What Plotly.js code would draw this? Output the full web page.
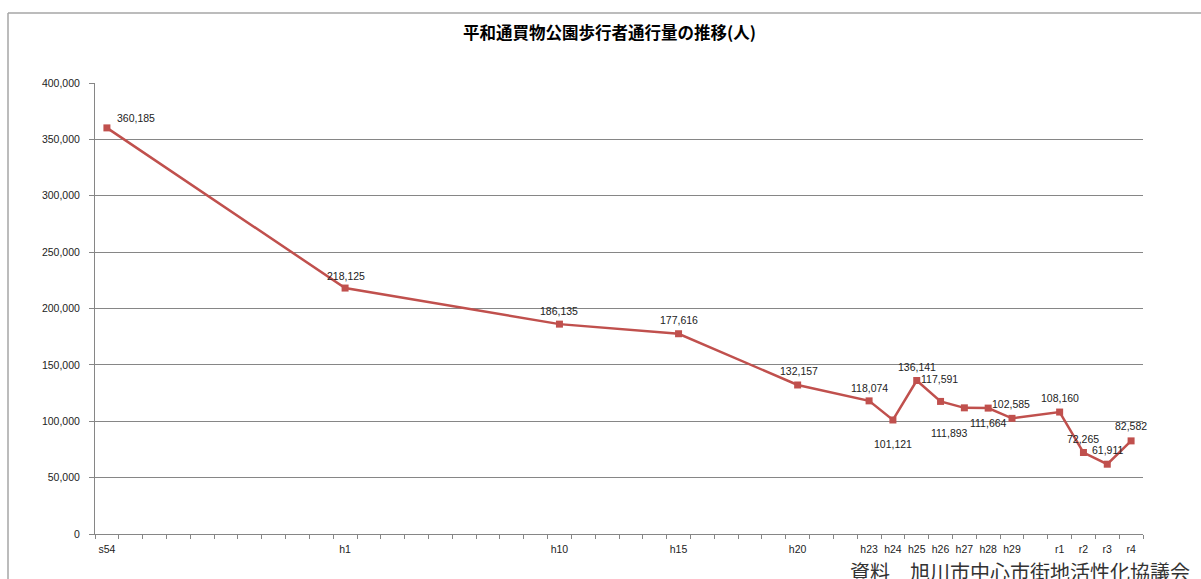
<!DOCTYPE html>
<html><head><meta charset="utf-8">
<script src="https://cdn.plot.ly/plotly-3.0.1.min.js"></script>
<style>html,body{margin:0;padding:0;background:#fff;}#chart{width:1201px;height:579px;}</style>
</head><body><div id="chart"></div>
<script>
// Data
const years = [1979, 1989, 1998, 2003, 2008, 2011, 2012, 2013, 2014, 2015, 2016, 2017, 2019, 2020, 2021, 2022];
const eraLabels = ['s54','h1','h10','h15','h20','h23','h24','h25','h26','h27','h28','h29','r1','r2','r3','r4'];
const pedestrians = [360185, 218125, 186135, 177616, 132157, 118074, 101121, 136141, 117591, 111893, 111664, 102585, 108160, 72265, 61911, 82582];
const titleText = '平和通買物公園歩行者通行量の推移(人)';
const sourceText = '資料　旭川市中心市街地活性化協議会';

// label offsets in pixels (style only)
const labelDx = [29, 1, 0, 0, 1, 0, 0, 0, -1, -15, 0, -1, 0, 0, 0, 0];
const labelDy = [10, 12, 13, 14, 14, 13, -24, 14, 22, -25, -15, 14, 14, 14, 14, 15];

const fmt = v => v.toLocaleString('en-US');
const minorVals = [];
for (let y = 1978.5; y <= 2022.5; y += 1) minorVals.push(y);

const labelFont = {family: 'Liberation Sans, Arial, sans-serif', size: 10.5, color: '#222'};

const trace = {
  x: years, y: pedestrians, type: 'scatter', mode: 'lines+markers',
  line: {color: '#C0504D', width: 2.5},
  marker: {symbol: 'square', size: 7, color: '#C0504D'},
  cliponaxis: false, hoverinfo: 'x+y'
};

const dataLabels = years.map((yr, i) => ({
  x: yr, y: pedestrians[i], xref: 'x', yref: 'y', text: fmt(pedestrians[i]),
  showarrow: false, xanchor: 'center', yanchor: 'middle',
  xshift: labelDx[i], yshift: labelDy[i], font: labelFont
}));

const layout = {
  width: 1201, height: 579,
  margin: {l: 95, r: 58, t: 83, b: 45},
  paper_bgcolor: '#fff', plot_bgcolor: '#fff',
  showlegend: false,
  title: {text: '<b>' + titleText + '</b>', x: 609.5/1201, xanchor: 'center', y: 1 - 33/579, yanchor: 'middle',
          font: {family: 'Noto Sans CJK JP, sans-serif', size: 16.5, color: '#000'}},
  xaxis: {
    range: [1978.5, 2022.5], tickmode: 'array', tickvals: years, ticktext: eraLabels,
    ticks: 'outside', ticklen: 5, tickcolor: 'rgba(0,0,0,0)',
    showgrid: false, zeroline: false, showline: true, linecolor: '#868686', linewidth: 1,
    tickfont: labelFont,
    minor: {tickmode: 'array', tickvals: minorVals, ticks: 'outside', ticklen: 4, tickcolor: '#868686', tickwidth: 1, showgrid: false}
  },
  yaxis: {
    range: [0, 400000], dtick: 50000, tick0: 0, tickformat: ',d',
    ticks: 'outside', ticklen: 5, tickcolor: '#868686', ticklabelstandoff: 7,
    showgrid: true, gridcolor: '#868686', gridwidth: 1, zeroline: false,
    showline: true, linecolor: '#868686', linewidth: 1,
    tickfont: labelFont
  },
  shapes: [
    {type: 'line', xref: 'paper', yref: 'paper', x0: (8-95)/1048, x1: (8-95)/1048, y0: (534-13)/451, y1: -0.2, line: {color: '#a6a6a6', width: 1.5}},
    {type: 'line', xref: 'paper', yref: 'paper', x0: (8-95)/1048, x1: 1.1, y0: (534-13)/451, y1: (534-13)/451, line: {color: '#a6a6a6', width: 1.5}}
  ],
  annotations: dataLabels.concat([
    {text: sourceText, xref: 'paper', yref: 'paper', x: (848-95)/1048, y: (534-571)/451, xanchor: 'left', yanchor: 'middle',
     showarrow: false, font: {family: 'Noto Sans CJK JP, sans-serif', size: 20, color: '#333'}}
  ])
};

Plotly.newPlot('chart', [trace], layout, {displayModeBar: false, staticPlot: true});
</script></body></html>
